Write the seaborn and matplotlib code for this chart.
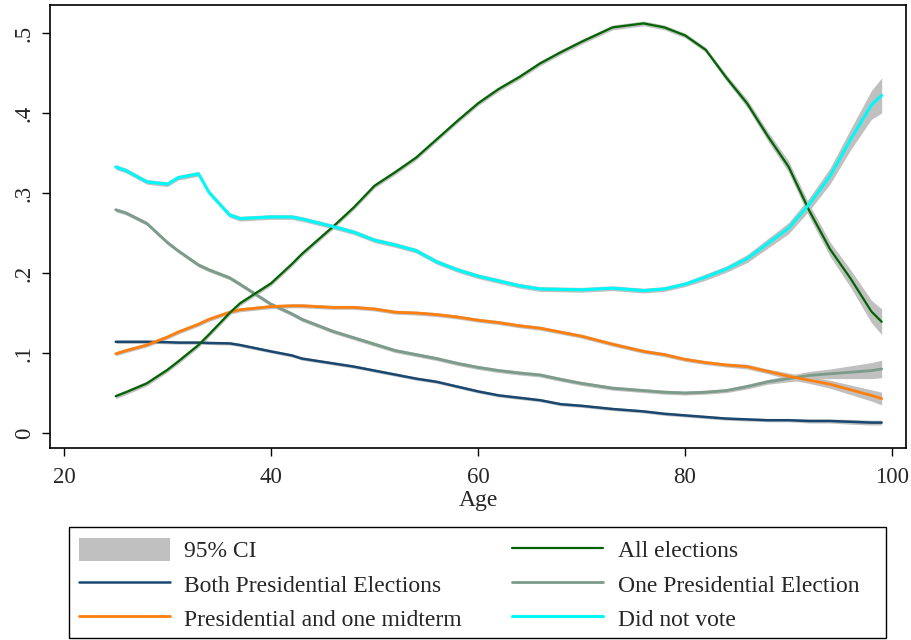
import numpy as np
import pandas as pd
import matplotlib
matplotlib.use("Agg")
import matplotlib.pyplot as plt
from matplotlib.patches import Patch, Rectangle
from matplotlib.lines import Line2D
import seaborn as sns

# Age grid of the smoothed shares
age = [25, 26, 28, 30, 31, 33, 34, 36, 37, 40, 42, 43, 46, 48, 50, 52, 54, 56, 58, 60,
       62, 64, 66, 68, 70, 73, 76, 78, 80, 82, 84, 86, 88, 90, 92, 94, 96, 98, 99]

# Share of each voting pattern by age
both_pres = [.114, .114, .114, .1135, .113, .113, .1125, .112, .110, .102, .097, .093, .087, .083,
             .078, .073, .068, .064, .058, .052, .047, .044, .041, .036, .034, .030, .027, .024,
             .022, .020, .018, .017, .016, .016, .015, .015, .014, .013, .013]
pres_mid = [.099, .103, .110, .120, .126, .136, .142, .151, .154, .158, .159, .159, .157, .157,
            .155, .151, .150, .148, .145, .141, .138, .134, .131, .126, .121, .111, .102, .098,
            .092, .088, .085, .083, .077, .071, .066, .061, .054, .047, .043]
all_elec = [.046, .051, .062, .079, .089, .110, .123, .150, .162, .187, .211, .224, .258, .282,
            .309, .326, .344, .367, .390, .412, .430, .445, .462, .476, .489, .507, .512, .507,
            .497, .479, .444, .412, .371, .333, .278, .230, .193, .152, .139]
one_pres = [.279, .275, .262, .238, .228, .210, .204, .194, .186, .161, .149, .142, .127, .119,
            .111, .103, .098, .093, .087, .082, .078, .075, .0725, .067, .062, .056, .053, .051,
            .050, .051, .053, .058, .064, .068, .072, .074, .076, .078, .080]
no_vote = [.3325, .328, .314, .311, .319, .324, .301, .2725, .268, .270, .270, .2675, .258, .251,
           .241, .235, .228, .214, .204, .196, .190, .184, .180, .1795, .179, .181, .178, .180,
           .186, .195, .205, .218, .237, .256, .286, .321, .367, .410, .422]

# Half-widths of the 95% confidence intervals
ci_both = [.002] * 33 + [.002, .0025, .0025, .003, .003, .003]
ci_mid = [.0025] * 31 + [.003, .003, .004, .004, .005, .006, .007, .008]
ci_all = [.003] * 30 + [.004, .005, .006, .007, .008, .009, .011, .014, .016]
ci_one = [.0025] * 31 + [.003, .003, .004, .005, .006, .008, .010, .011]
ci_none = [.003] * 29 + [.004, .004, .005, .006, .007, .008, .010, .013, .018, .022]

labels = ["Both Presidential Elections", "Presidential and one midterm", "All elections",
          "One Presidential Election", "Did not vote"]
colors = ["#1a476f", "#ff7f0e", "#006400", "#7b9b8b", "#00f8f8"]
widths = [1.8, 2.0, 1.6, 2.0, 2.2]

sns.set_theme(style="white")
plt.rcParams["font.family"] = ["Liberation Serif", "DejaVu Serif"]

series = [both_pres, pres_mid, all_elec, one_pres, no_vote]
cis = [ci_both, ci_mid, ci_all, ci_one, ci_none]

frames = []
for lab, vals in zip(labels, series):
    frames.append(pd.DataFrame({"Age": age, "share": vals, "pattern": lab}))
df = pd.concat(frames, ignore_index=True)

W, H = 911, 640
fig = plt.figure(figsize=(W / 100, H / 100), dpi=100)
ax = fig.add_axes([50 / W, 1 - 448 / H, 856 / W, 443 / H])

a = np.array(age, dtype=float)
for vals, ci in zip(series, cis):
    v = np.array(vals)
    c = np.array(ci)
    ax.fill_between(a, v - c, v + c, color="#c0c0c0", lw=0, zorder=1)

draw_order = [0, 3, 1, 2, 4]
for i in draw_order:
    sns.lineplot(data=df[df["pattern"] == labels[i]], x="Age", y="share", ax=ax,
                 color=colors[i], lw=widths[i], legend=False, zorder=3, errorbar=None)

ax.set_xlim(18.65, 101.35)
ax.set_ylim(-0.01875, 0.535)
ax.set_xticks([20, 40, 60, 80, 100])
ax.set_yticks([0, .1, .2, .3, .4, .5])
ax.set_yticklabels(["0", ".1", ".2", ".3", ".4", ".5"], rotation=90, va="center")
ax.set_xlabel("Age", fontsize=17, labelpad=1)
ax.set_ylabel("")
ax.tick_params(axis="both", which="major", direction="out", length=6, width=1,
               color="black", labelsize=16.5, left=True, bottom=True)
ax.tick_params(axis="x", pad=8)
ax.tick_params(axis="y", pad=5)
for s in ax.spines.values():
    s.set_color("black")
    s.set_linewidth(1.2)

handles = [Patch(facecolor="#c0c0c0", edgecolor="none"),
           Line2D([], [], color=colors[0], lw=widths[0]),
           Line2D([], [], color=colors[1], lw=widths[1]),
           Line2D([], [], color=colors[2], lw=widths[2]),
           Line2D([], [], color=colors[3], lw=widths[3]),
           Line2D([], [], color=colors[4], lw=widths[4])]
names = ["95% CI", labels[0], labels[1], labels[2], labels[3], labels[4]]
leg = fig.legend(handles, names, ncol=2, loc="upper left",
                 bbox_to_anchor=(79 / W, 1 - 538 / H),
                 fontsize=17, frameon=False, handlelength=3.85,
                 handleheight=1.1, handletextpad=0.6, labelspacing=0.42,
                 columnspacing=2.15, borderpad=0, borderaxespad=0)

# Legend border
fig.patches.append(Rectangle((69 / W, 1 - 638 / H), 817 / W, 111 / H,
                             transform=fig.transFigure, fill=False,
                             edgecolor="black", lw=1.0, zorder=5))

fig.savefig("out.png", dpi=100)
